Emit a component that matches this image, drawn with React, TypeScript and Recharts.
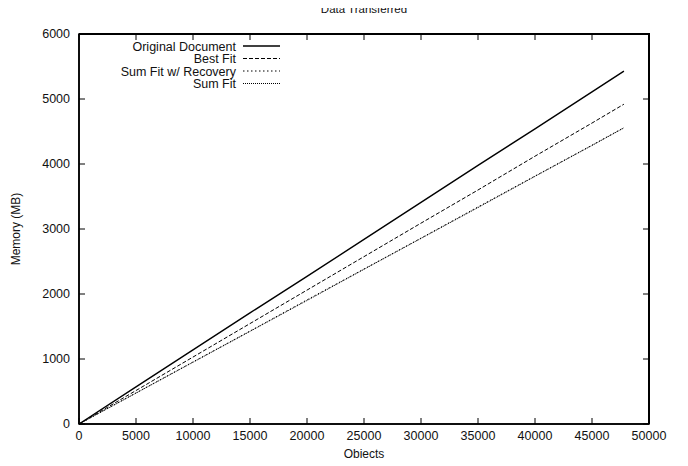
import { LineChart, Line, XAxis, YAxis, ReferenceArea } from 'recharts';

const objects = [0, 5000, 10000, 15000, 20000, 25000, 30000, 35000, 40000, 45000, 47800];
const originalDocument = [0, 570, 1140, 1710, 2270, 2840, 3410, 3980, 4540, 5110, 5430];
const bestFit = [0, 515, 1030, 1545, 2060, 2575, 3090, 3600, 4120, 4630, 4920];
const sumFitRecovery = [0, 478, 955, 1430, 1910, 2385, 2860, 3340, 3815, 4290, 4560];
const sumFit = [0, 475, 950, 1425, 1900, 2380, 2855, 3330, 3810, 4285, 4555];

const xTicks = [0, 5000, 10000, 15000, 20000, 25000, 30000, 35000, 40000, 45000, 50000];
const yTicks = [0, 1000, 2000, 3000, 4000, 5000, 6000];

const seriesNames = ['Original Document', 'Best Fit', 'Sum Fit w/ Recovery', 'Sum Fit'];
const seriesKeys = ['orig', 'best', 'sumRec', 'sum'];
const dashes = ['', '4 2', '1.5 2.5', '1 1'];
const widths = [1.4, 1, 1, 1];

const data = objects.map((x, i) => ({
  x,
  orig: originalDocument[i],
  best: bestFit[i],
  sumRec: sumFitRecovery[i],
  sum: sumFit[i],
}));

const W = 688;
const H = 466;
const margin = { top: 34, right: 39, left: 0, bottom: 0 };
const yAxisW = 79;
const xAxisH = 42;
// plot box size, used to mirror ticks onto the top and right border
const plotW = W - margin.right - yAxisW;
const plotH = H - margin.top - xAxisH;

const font = 'Liberation Sans, Arial, sans-serif';
const ink = '#000';

const BottomTick = (props: any) => {
  const { x, y, payload } = props;
  return (
    <g>
      <line x1={x} y1={y} x2={x} y2={y - 6} stroke={ink} strokeWidth={1} />
      <line x1={x} y1={y - plotH} x2={x} y2={y - plotH + 6} stroke={ink} strokeWidth={1} />
      <text x={x} y={y + 16} textAnchor="middle" fontSize={12.5} fontFamily={font} fill="#111">
        {payload.value}
      </text>
    </g>
  );
};

const LeftTick = (props: any) => {
  const { x, y, payload } = props;
  return (
    <g>
      <line x1={x} y1={y} x2={x + 6} y2={y} stroke={ink} strokeWidth={1} />
      <line x1={x + plotW} y1={y} x2={x + plotW - 6} y2={y} stroke={ink} strokeWidth={1} />
      <text x={x - 9} y={y + 4} textAnchor="end" fontSize={12.5} fontFamily={font} fill="#111">
        {payload.value}
      </text>
    </g>
  );
};

const LegendBox = () => (
  <svg width={190} height={52} style={{ position: 'absolute', left: 100, top: 38 }}>
    {seriesNames.map((name, i) => {
      const cy = 8 + i * 12.5;
      return (
        <g key={name}>
          <text x={136} y={cy + 4.5} textAnchor="end" fontSize={12.5} fontFamily={font} fill="#111">
            {name}
          </text>
          <line
            x1={143}
            x2={180}
            y1={cy}
            y2={cy}
            stroke={ink}
            strokeWidth={widths[i]}
            strokeDasharray={dashes[i]}
          />
        </g>
      );
    })}
  </svg>
);

export default function App() {
  return (
    <div style={{ position: 'relative', margin: -8, width: W, height: H, background: '#fff' }}>
      <div
        style={{
          position: 'absolute',
          left: 0,
          width: W,
          top: 3,
          paddingLeft: 40,
          boxSizing: 'border-box',
          textAlign: 'center',
          fontFamily: font,
          fontSize: 11.5,
          color: '#111',
        }}
      >
        Data Transferred
      </div>
      <LineChart width={W} height={H} data={data} margin={margin}>
        <ReferenceArea
          x1={0}
          x2={50000}
          y1={0}
          y2={6000}
          fill="none"
          fillOpacity={0}
          stroke={ink}
          strokeWidth={1.5}
          strokeOpacity={1}
        />
        <XAxis
          dataKey="x"
          type="number"
          domain={[0, 50000]}
          ticks={xTicks}
          height={xAxisH}
          tickSize={0}
          tickMargin={0}
          tick={<BottomTick />}
          axisLine={{ stroke: ink, strokeWidth: 1.5 }}
          label={{ value: 'Objects', position: 'insideBottom', offset: 8, fontSize: 12, fontFamily: font, fill: '#111' }}
        />
        <YAxis
          type="number"
          domain={[0, 6000]}
          ticks={yTicks}
          width={yAxisW}
          tickSize={0}
          tickMargin={0}
          tick={<LeftTick />}
          axisLine={{ stroke: ink, strokeWidth: 1.5 }}
          label={{
            value: 'Memory (MB)',
            angle: -90,
            position: 'insideLeft',
            offset: 16,
            style: { textAnchor: 'middle' },
            fontSize: 12,
            fontFamily: font,
            fill: '#111',
          }}
        />
        {seriesKeys.map((k, i) => (
          <Line
            key={k}
            dataKey={k}
            name={seriesNames[i]}
            type="linear"
            stroke={ink}
            strokeWidth={widths[i]}
            strokeDasharray={dashes[i]}
            dot={false}
            isAnimationActive={false}
          />
        ))}
      </LineChart>
      {/* top and right border of the plot box */}
      <div
        style={{
          position: 'absolute',
          left: yAxisW,
          top: margin.top - 1,
          width: plotW + 1,
          height: plotH + 1,
          boxSizing: 'border-box',
          borderTop: `2px solid ${ink}`,
          borderRight: `2px solid ${ink}`,
          pointerEvents: 'none',
        }}
      />
      <LegendBox />
    </div>
  );
}
